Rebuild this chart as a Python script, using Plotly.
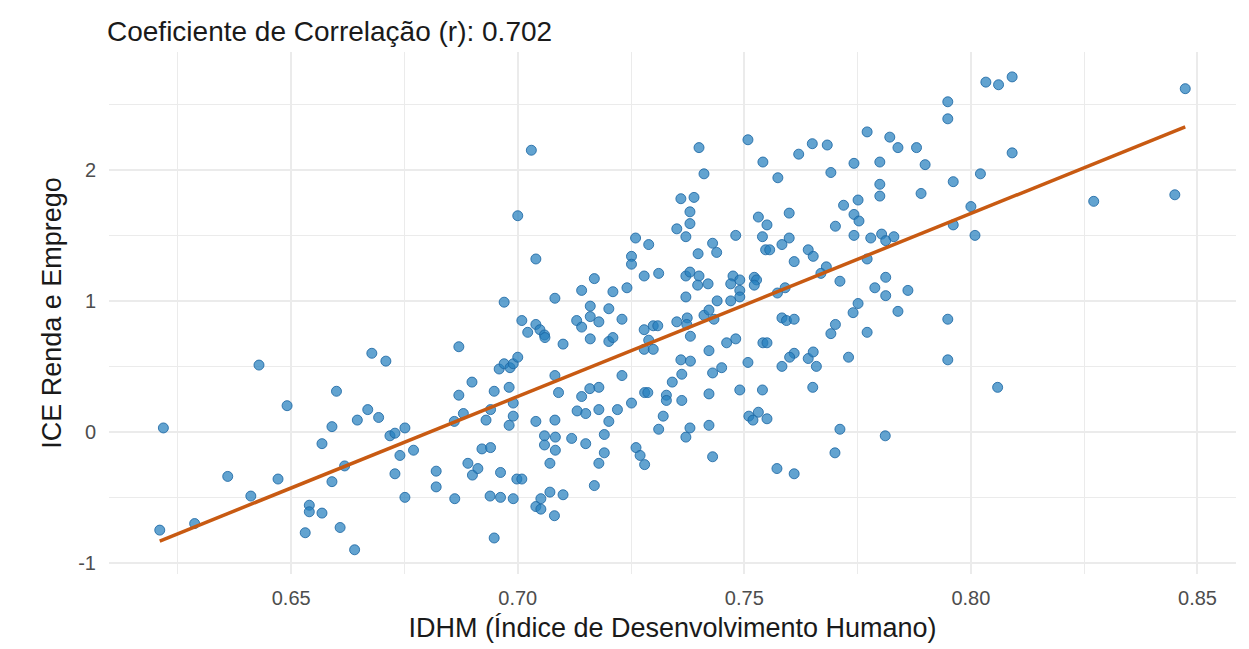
import numpy as np
import plotly.graph_objects as go

# IDHM (x) e ICE Renda e Emprego (y)
idhm = [
    0.6218, 0.6210, 0.6429, 0.6491, 0.6287, 0.6360, 0.6411, 0.6471, 0.6600, 0.6590,
    0.6568, 0.6646, 0.6618, 0.6590, 0.6540, 0.6540, 0.6568, 0.6531, 0.6608, 0.6640,
    0.6970, 0.7082, 0.7009, 0.7022, 0.7040, 0.7049, 0.7059, 0.7060, 0.7100, 0.7130,
    0.7141, 0.6678, 0.6709, 0.6870, 0.6959, 0.6970, 0.6983, 0.6990, 0.7000, 0.6899,
    0.6870, 0.6948, 0.6981, 0.7082, 0.7090, 0.7131, 0.6669, 0.6693, 0.6880, 0.6860,
    0.6930, 0.6940, 0.6990, 0.6990, 0.6981, 0.7040, 0.7082, 0.6718, 0.6729, 0.6751,
    0.6740, 0.6770, 0.6729, 0.6751, 0.6820, 0.6820, 0.6861, 0.6890, 0.6900, 0.6912,
    0.6921, 0.6940, 0.6962, 0.6998, 0.7009, 0.6939, 0.6962, 0.6990, 0.7059, 0.7059,
    0.7083, 0.7083, 0.7119, 0.7071, 0.7071, 0.7100, 0.7051, 0.7040, 0.7051, 0.7081,
    0.6948, 0.7030, 0.7000, 0.7040, 0.7360, 0.7351, 0.7260, 0.7289, 0.7251, 0.7251,
    0.7279, 0.7311, 0.7169, 0.7241, 0.7141, 0.7210, 0.7160, 0.7201, 0.7160, 0.7179,
    0.7230, 0.7279, 0.7299, 0.7309, 0.7351, 0.7289, 0.7279, 0.7299, 0.7360, 0.7201,
    0.7210, 0.7160, 0.7230, 0.7380, 0.7380, 0.7371, 0.7531, 0.7550, 0.7599, 0.7481,
    0.7540, 0.7599, 0.7583, 0.7547, 0.7556, 0.7430, 0.7439, 0.7398, 0.7371, 0.7380,
    0.7400, 0.7397, 0.7420, 0.7475, 0.7470, 0.7490, 0.7490, 0.7490, 0.7522, 0.7527,
    0.7522, 0.7371, 0.7440, 0.7470, 0.7573, 0.7374, 0.7373, 0.7411, 0.7422, 0.7433,
    0.7381, 0.7422, 0.7461, 0.7481, 0.7541, 0.7550, 0.7583, 0.7593, 0.7610, 0.7583,
    0.7508, 0.7381, 0.7362, 0.7430, 0.7450, 0.7159, 0.7179, 0.7141, 0.7150, 0.7179,
    0.7201, 0.7220, 0.7251, 0.7280, 0.7287, 0.7341, 0.7328, 0.7328, 0.7362, 0.7422,
    0.7490, 0.7540, 0.7321, 0.7311, 0.7380, 0.7371, 0.7422, 0.7510, 0.7531, 0.7519,
    0.7550, 0.7150, 0.7191, 0.7191, 0.7179, 0.7261, 0.7270, 0.7280, 0.7430, 0.7572,
    0.7169, 0.7400, 0.7508, 0.7771, 0.7650, 0.7683, 0.7620, 0.7541, 0.7742, 0.7799,
    0.7411, 0.7574, 0.7691, 0.7799, 0.7389, 0.7719, 0.7751, 0.7742, 0.7753, 0.7701,
    0.7742, 0.7779, 0.7799, 0.7641, 0.7652, 0.7610, 0.7681, 0.7669, 0.7711, 0.7771,
    0.7788, 0.7590, 0.7751, 0.7740, 0.7701, 0.7691, 0.7771, 0.7610, 0.7600, 0.7641,
    0.7652, 0.7730, 0.7659, 0.7949, 0.7949, 0.7821, 0.7839, 0.7880, 0.7899, 0.7961,
    0.8021, 0.7890, 0.7803, 0.7812, 0.7830, 0.8000, 0.7961, 0.8009, 0.7812, 0.7812,
    0.7861, 0.7839, 0.7949, 0.7949, 0.7651, 0.8059, 0.7711, 0.8033, 0.8061, 0.8091,
    0.8473, 0.8091, 0.8271, 0.8450, 0.7610, 0.7700, 0.7811,
]
ice = [
    0.03, -0.75, 0.51, 0.20, -0.70, -0.34, -0.49, -0.36, 0.31, 0.04,
    -0.09, 0.09, -0.26, -0.38, -0.56, -0.61, -0.62, -0.77, -0.73, -0.90,
    0.99, 1.02, 0.85, 0.76, 0.82, 0.78, 0.74, 0.72, 0.67, 0.85,
    0.80, 0.60, 0.54, 0.65, 0.48, 0.52, 0.49, 0.52, 0.57, 0.38,
    0.28, 0.31, 0.34, 0.43, 0.30, 0.16, 0.17, 0.11, 0.14, 0.08,
    0.09, 0.17, 0.22, 0.12, 0.05, 0.08, 0.09, -0.03, -0.01, 0.03,
    -0.18, -0.14, -0.32, -0.50, -0.30, -0.42, -0.51, -0.24, -0.33, -0.28,
    -0.13, -0.12, -0.31, -0.36, -0.36, -0.49, -0.50, -0.51, -0.03, -0.10,
    -0.04, -0.14, -0.05, -0.24, -0.46, -0.48, -0.51, -0.57, -0.59, -0.64,
    -0.81, 2.15, 1.65, 1.32, 1.78, 1.55, 1.48, 1.43, 1.34, 1.28,
    1.19, 1.21, 1.17, 1.10, 1.08, 1.07, 0.96, 0.94, 0.88, 0.84,
    0.86, 0.78, 0.81, 0.81, 0.84, 0.70, 0.63, 0.63, 0.55, 0.69,
    0.72, 0.71, 0.43, 1.68, 1.59, 1.49, 1.64, 1.58, 1.67, 1.50,
    1.49, 1.48, 1.43, 1.39, 1.39, 1.44, 1.37, 1.36, 1.19, 1.22,
    1.19, 1.12, 1.13, 1.19, 1.13, 1.16, 1.08, 1.03, 1.18, 1.16,
    1.12, 1.03, 1.00, 1.00, 1.06, 0.87, 0.82, 0.89, 0.93, 0.86,
    0.73, 0.62, 0.68, 0.71, 0.68, 0.68, 0.87, 0.85, 0.86, 0.50,
    0.53, 0.54, 0.44, 0.45, 0.49, 0.33, 0.34, 0.27, 0.14, 0.17,
    0.08, 0.17, 0.22, 0.30, 0.30, 0.38, 0.28, 0.24, 0.24, 0.29,
    0.32, 0.32, 0.12, 0.02, 0.03, -0.04, 0.05, 0.12, 0.15, 0.09,
    0.10, -0.09, -0.02, -0.16, -0.24, -0.12, -0.18, -0.25, -0.19, -0.28,
    -0.41, 2.17, 2.23, 2.29, 2.20, 2.19, 2.12, 2.06, 2.05, 2.06,
    1.97, 1.94, 1.98, 1.89, 1.79, 1.73, 1.77, 1.66, 1.61, 1.57,
    1.50, 1.48, 1.80, 1.39, 1.34, 1.30, 1.26, 1.21, 1.15, 1.32,
    1.10, 1.10, 0.98, 0.91, 0.82, 0.75, 0.76, 0.60, 0.57, 0.56,
    0.61, 0.57, 0.50, 2.39, 2.52, 2.25, 2.17, 2.17, 2.04, 1.91,
    1.97, 1.82, 1.51, 1.46, 1.49, 1.72, 1.58, 1.50, 1.18, 1.04,
    1.08, 0.92, 0.86, 0.55, 0.34, 0.34, 0.02, 2.67, 2.65, 2.71,
    2.62, 2.13, 1.76, 1.81, -0.32, -0.16, -0.03,
]

x_ticks = [0.65, 0.70, 0.75, 0.80, 0.85]
x_labels = ["0.65", "0.70", "0.75", "0.80", "0.85"]
y_ticks = [-1, 0, 1, 2]
y_labels = ["-1", "0", "1", "2"]

x = np.array(idhm)
y = np.array(ice)
slope, intercept = np.polyfit(x, y, 1)
line_x = np.array([x.min(), x.max()])
line_y = intercept + slope * line_x

font = "Liberation Sans, Arial, sans-serif"
grid = "#ebebeb"

fig = go.Figure()
fig.add_trace(go.Scatter(
    x=idhm, y=ice, mode="markers",
    marker=dict(size=10, color="rgba(38,128,190,0.72)",
                line=dict(color="rgba(30,105,165,0.85)", width=1)),
    showlegend=False, hoverinfo="x+y"))
fig.add_trace(go.Scatter(
    x=line_x, y=line_y, mode="lines",
    line=dict(color="#c85a12", width=3.5),
    showlegend=False, hoverinfo="skip"))

# the page body has an 8px margin, so the figure is 8px smaller than the window
W, H = 1241, 641
fig.update_layout(
    width=W, height=H,
    margin=dict(l=101, r=13, t=44, b=75),
    paper_bgcolor="white", plot_bgcolor="white",
    font=dict(family=font, color="#4d4d4d"),
    title=dict(text="Coeficiente de Correlação (r): 0.702",
               x=99 / W, xanchor="left", y=1 - 23 / H, yanchor="middle",
               font=dict(size=28, color="#1a1a1a", family=font)),
)
fig.update_xaxes(
    range=[0.6098, 0.8585], tickvals=x_ticks, ticktext=x_labels,
    showgrid=True, gridcolor=grid, gridwidth=2, zeroline=False,
    showline=False, ticks="", ticklabelstandoff=10,
    tickfont=dict(size=20, color="#4d4d4d"),
    minor=dict(tickvals=[0.625, 0.675, 0.725, 0.775, 0.825], showgrid=True,
               gridcolor=grid, gridwidth=1.3),
    title=dict(text="IDHM (Índice de Desenvolvimento Humano)",
               font=dict(size=27, color="#1a1a1a"), standoff=10),
)
fig.update_yaxes(
    range=[-1.085, 2.90], tickvals=y_ticks, ticktext=y_labels,
    showgrid=True, gridcolor=grid, gridwidth=2, zeroline=False,
    showline=False, ticks="", ticklabelstandoff=12,
    tickfont=dict(size=20, color="#4d4d4d"),
    minor=dict(tickvals=[-0.5, 0.5, 1.5, 2.5], showgrid=True,
               gridcolor=grid, gridwidth=1.3),
    title=dict(text="ICE Renda e Emprego",
               font=dict(size=27, color="#1a1a1a"), standoff=8),
)

fig.write_html("out.html")
